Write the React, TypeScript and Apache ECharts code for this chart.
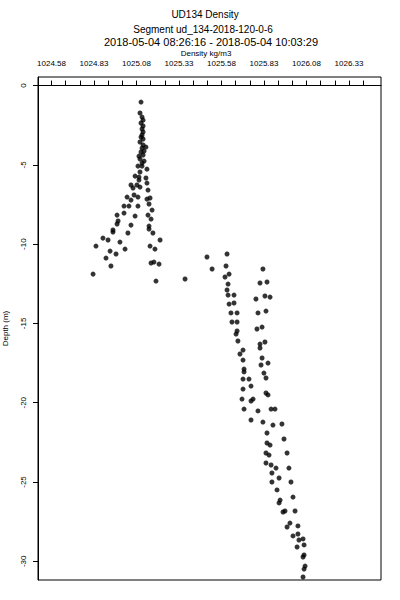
import React, { useEffect, useRef } from "react";
import * as echarts from "echarts";

const titleLines = [
  "UD134 Density",
  "Segment ud_134-2018-120-0-6",
  "2018-05-04 08:26:16 - 2018-05-04 10:03:29",
];
const xAxisTitle = "Density kg/m3";
const yAxisTitle = "Depth (m)";

const densityTicks = [
  1024.5833, 1024.6667, 1024.75, 1024.8333, 1024.9167, 1025.0, 1025.0833,
  1025.1667, 1025.25, 1025.3333, 1025.4167, 1025.5, 1025.5833, 1025.6667,
  1025.75, 1025.8333, 1025.9167, 1026.0, 1026.0833, 1026.1667, 1026.25,
  1026.3333, 1026.4167,
];
const densityLabels = [
  1024.5833, 1024.8333, 1025.0833, 1025.3333, 1025.5833, 1025.8333, 1026.0833,
  1026.3333,
];
const depthTicks = [0, -5, -10, -15, -20, -25, -30];

// [density kg/m3, depth m]
const upperProfile: [number, number][] = [
  [1025.11, -1.04], [1025.104, -1.73], [1025.116, -1.99], [1025.122, -2.18],
  [1025.11, -2.36], [1025.122, -2.55], [1025.116, -2.74], [1025.122, -2.93],
  [1025.116, -3.12], [1025.11, -3.25], [1025.122, -3.37], [1025.104, -3.56],
  [1025.122, -3.75], [1025.139, -3.88], [1025.116, -3.94], [1025.128, -4.13],
  [1025.11, -4.19], [1025.122, -4.38], [1025.098, -4.45], [1025.104, -4.63],
  [1025.128, -4.76], [1025.116, -4.89], [1025.092, -5.08], [1025.116, -5.08],
  [1025.145, -5.27], [1025.104, -5.45], [1025.075, -5.71], [1025.098, -5.77],
  [1025.139, -5.83], [1025.098, -5.96], [1025.145, -6.15], [1025.051, -6.27],
  [1025.086, -6.27], [1025.104, -6.4], [1025.063, -6.46], [1025.151, -6.59],
  [1025.069, -6.9], [1025.092, -7.03], [1025.028, -7.03], [1025.051, -7.22],
  [1025.145, -7.16], [1025.163, -7.09], [1025.157, -7.47], [1025.01, -7.6],
  [1025.039, -7.6], [1025.092, -7.6], [1025.175, -7.85], [1024.969, -8.17],
  [1025.01, -8.04], [1025.151, -8.17], [1025.075, -8.23], [1025.169, -8.42],
  [1024.969, -8.73], [1024.975, -8.54], [1025.051, -8.8], [1025.157, -8.86],
  [1025.157, -9.05], [1024.945, -9.11], [1024.945, -9.24], [1025.033, -9.3],
  [1025.18, -9.3], [1024.886, -9.62], [1024.916, -9.74], [1024.986, -9.87],
  [1025.222, -9.74], [1024.845, -10.12], [1025.163, -10.12], [1024.928, -10.44],
  [1024.963, -10.62], [1025.016, -10.31], [1025.192, -10.31], [1024.904, -10.88],
  [1025.169, -11.19], [1025.186, -11.13], [1025.216, -11.26], [1024.933, -11.38],
  [1024.828, -11.89], [1025.198, -12.33], [1025.369, -12.2],
];

const lowerProfile: [number, number][] = [
  [1025.616, -10.62], [1025.498, -10.81], [1025.61, -11.38], [1025.528, -11.57],
  [1025.827, -11.57], [1025.628, -11.89], [1025.604, -12.07], [1025.81, -12.45],
  [1025.851, -12.39], [1025.622, -12.52], [1025.616, -12.89], [1025.622, -13.21],
  [1025.657, -13.21], [1025.786, -13.46], [1025.839, -13.27], [1025.869, -13.34],
  [1025.628, -13.78], [1025.657, -13.71], [1025.798, -14.34], [1025.845, -14.22],
  [1025.639, -14.34], [1025.675, -14.34], [1025.645, -14.91], [1025.675, -14.91],
  [1025.792, -15.35], [1025.822, -15.23], [1025.675, -15.48], [1025.669, -15.67],
  [1025.68, -16.11], [1025.81, -16.3], [1025.81, -16.55], [1025.839, -16.17],
  [1025.71, -16.68], [1025.692, -16.93], [1025.822, -17.18], [1025.71, -17.31],
  [1025.816, -17.62], [1025.857, -17.5], [1025.716, -17.88], [1025.716, -18.06],
  [1025.833, -18.13], [1025.845, -18.44], [1025.71, -18.51], [1025.745, -18.51],
  [1025.757, -18.95], [1025.71, -19.14], [1025.845, -19.39], [1025.857, -19.51],
  [1025.704, -19.77], [1025.769, -19.77], [1025.757, -19.89], [1025.716, -20.4],
  [1025.798, -20.52], [1025.875, -20.4], [1025.898, -20.4], [1025.757, -21.09],
  [1025.827, -21.22], [1025.886, -21.41], [1025.939, -21.34], [1025.851, -21.91],
  [1025.951, -22.29], [1025.851, -22.54], [1025.869, -22.67], [1025.969, -23.17],
  [1025.845, -23.17], [1025.863, -23.3], [1025.845, -23.8], [1025.875, -23.93],
  [1025.904, -24.12], [1025.98, -24.12], [1025.88, -24.43], [1025.922, -24.75],
  [1025.88, -25.0], [1025.992, -25.0], [1025.91, -25.5], [1026.004, -25.95],
  [1025.928, -26.14], [1025.922, -26.32], [1025.957, -26.83], [1025.945, -26.89],
  [1026.016, -26.83], [1025.986, -27.59], [1025.969, -27.84], [1026.033, -27.77],
  [1026.004, -28.4], [1026.033, -28.28], [1026.039, -28.66], [1026.063, -28.59],
  [1026.028, -29.1], [1026.069, -28.97], [1026.069, -29.6], [1026.063, -29.73],
  [1026.075, -30.3], [1026.069, -30.49], [1026.063, -30.99],
];

const FONT = "Liberation Sans";

export default function App() {
  const ref = useRef<HTMLDivElement>(null);
  useEffect(() => {
    document.body.style.margin = "0";
    if (!ref.current) return;
    const chart = echarts.init(ref.current, undefined, { renderer: "svg" });
    const titleStyle = (size: number) => ({
      fontSize: size,
      fontWeight: "normal" as const,
      fontFamily: FONT,
      color: "#000",
    });
    chart.setOption({
      animation: false,
      backgroundColor: "#fff",
      title: [
        { text: titleLines[0], left: 205, top: 9, textAlign: "center", padding: 0, textStyle: titleStyle(10) },
        { text: titleLines[1], left: 203, top: 24, textAlign: "center", padding: 0, textStyle: titleStyle(10) },
        { text: titleLines[2], left: 211, top: 36, textAlign: "center", padding: 0, textStyle: titleStyle(11) },
        { text: xAxisTitle, left: 206, top: 49, textAlign: "center", padding: 0, textStyle: titleStyle(8) },
      ],
      grid: {
        left: 38,
        right: 19,
        top: 77,
        bottom: 20,
        containLabel: false,
        outerBoundsMode: "none",
        show: true,
        borderColor: "#000",
        borderWidth: 1,
        backgroundColor: "transparent",
      },
      xAxis: {
        type: "value",
        position: "top",
        min: 1024.504,
        max: 1026.5216,
        splitLine: { show: false },
        axisLine: { show: true, lineStyle: { color: "#000", width: 1 } },
        axisTick: {
          show: true,
          inside: false,
          length: 5,
          lineStyle: { color: "#000", width: 1 },
          customValues: densityTicks,
        },
        axisLabel: {
          show: true,
          margin: 10,
          fontSize: 8,
          fontFamily: FONT,
          color: "#000",
          customValues: densityLabels,
          formatter: (v: number) => v.toFixed(2),
        },
      },
      yAxis: {
        type: "value",
        min: -31.18,
        max: 0.54,
        name: yAxisTitle,
        nameLocation: "middle",
        nameRotate: 90,
        nameGap: 29,
        nameTextStyle: { fontSize: 8, fontFamily: FONT, color: "#000" },
        splitLine: { show: false },
        axisLine: { show: true, lineStyle: { color: "#000", width: 1 } },
        axisTick: {
          show: true,
          inside: false,
          length: 5,
          lineStyle: { color: "#000", width: 1 },
          customValues: depthTicks,
        },
        axisLabel: {
          show: true,
          rotate: 90,
          margin: 11,
          fontSize: 8,
          fontFamily: FONT,
          color: "#000",
          customValues: depthTicks,
          formatter: (v: number) => String(v),
        },
      },
      series: [
        {
          type: "scatter",
          data: upperProfile,
          symbol: "circle",
          symbolSize: 5,
          itemStyle: { color: "#000" },
        },
        {
          type: "scatter",
          data: lowerProfile,
          symbol: "circle",
          symbolSize: 5,
          itemStyle: { color: "#000" },
        },
      ],
    });
    return () => chart.dispose();
  }, []);
  return <div ref={ref} style={{ width: 400, height: 600 }} />;
}
